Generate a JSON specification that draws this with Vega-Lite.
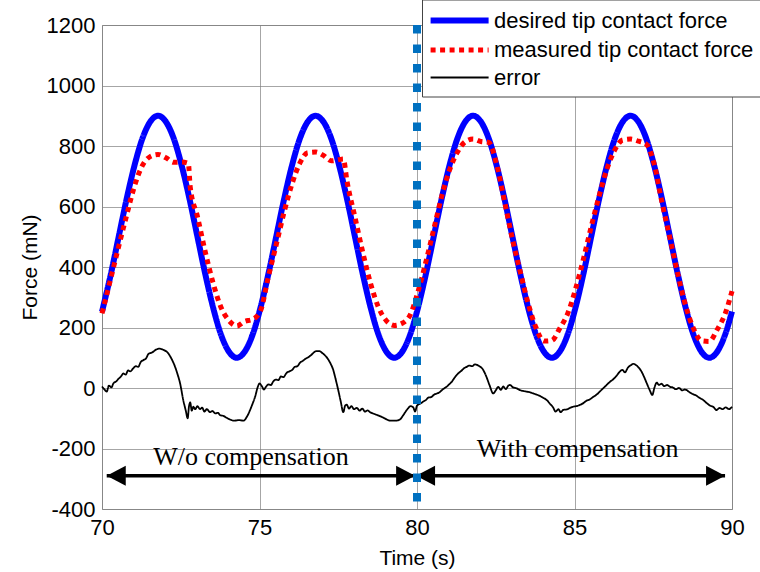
{
  "$schema": "https://vega.github.io/schema/vega-lite/v6.json",
  "width": 630,
  "height": 484,
  "autosize": {"type": "none"},
  "padding": {"left": 102, "top": 25, "right": 28, "bottom": 63},
  "background": "white",
  "config": {
    "font": "Liberation Sans",
    "view": {"stroke": "#999", "strokeWidth": 1},
    "axis": {
      "labelFont": "Liberation Sans", "labelFontSize": 22, "labelColor": "#000", "labelFlush": false,
      "titleFont": "Liberation Sans", "titleFontSize": 21, "titleFontWeight": "normal", "titleColor": "#000",
      "gridColor": "#808080", "gridWidth": 0.7, "domain": false, "ticks": false
    }
  },
  "datasets": {
    "curves": [
      {"t": 70.00, "v": 252, "s": "desired tip contact force"},
      {"t": 70.03, "v": 265, "s": "desired tip contact force"},
      {"t": 70.28, "v": 376, "s": "desired tip contact force"},
      {"t": 70.53, "v": 500, "s": "desired tip contact force"},
      {"t": 70.78, "v": 624, "s": "desired tip contact force"},
      {"t": 71.03, "v": 735, "s": "desired tip contact force"},
      {"t": 71.28, "v": 824, "s": "desired tip contact force"},
      {"t": 71.53, "v": 880, "s": "desired tip contact force"},
      {"t": 71.78, "v": 900, "s": "desired tip contact force"},
      {"t": 72.03, "v": 880, "s": "desired tip contact force"},
      {"t": 72.28, "v": 824, "s": "desired tip contact force"},
      {"t": 72.53, "v": 735, "s": "desired tip contact force"},
      {"t": 72.78, "v": 624, "s": "desired tip contact force"},
      {"t": 73.03, "v": 500, "s": "desired tip contact force"},
      {"t": 73.28, "v": 376, "s": "desired tip contact force"},
      {"t": 73.53, "v": 265, "s": "desired tip contact force"},
      {"t": 73.78, "v": 176, "s": "desired tip contact force"},
      {"t": 74.03, "v": 120, "s": "desired tip contact force"},
      {"t": 74.28, "v": 100, "s": "desired tip contact force"},
      {"t": 74.53, "v": 120, "s": "desired tip contact force"},
      {"t": 74.78, "v": 176, "s": "desired tip contact force"},
      {"t": 75.03, "v": 265, "s": "desired tip contact force"},
      {"t": 75.28, "v": 376, "s": "desired tip contact force"},
      {"t": 75.53, "v": 500, "s": "desired tip contact force"},
      {"t": 75.78, "v": 624, "s": "desired tip contact force"},
      {"t": 76.03, "v": 735, "s": "desired tip contact force"},
      {"t": 76.28, "v": 824, "s": "desired tip contact force"},
      {"t": 76.53, "v": 880, "s": "desired tip contact force"},
      {"t": 76.78, "v": 900, "s": "desired tip contact force"},
      {"t": 77.03, "v": 880, "s": "desired tip contact force"},
      {"t": 77.28, "v": 824, "s": "desired tip contact force"},
      {"t": 77.53, "v": 735, "s": "desired tip contact force"},
      {"t": 77.78, "v": 624, "s": "desired tip contact force"},
      {"t": 78.03, "v": 500, "s": "desired tip contact force"},
      {"t": 78.28, "v": 376, "s": "desired tip contact force"},
      {"t": 78.53, "v": 265, "s": "desired tip contact force"},
      {"t": 78.78, "v": 176, "s": "desired tip contact force"},
      {"t": 79.03, "v": 120, "s": "desired tip contact force"},
      {"t": 79.28, "v": 100, "s": "desired tip contact force"},
      {"t": 79.53, "v": 120, "s": "desired tip contact force"},
      {"t": 79.78, "v": 176, "s": "desired tip contact force"},
      {"t": 80.03, "v": 265, "s": "desired tip contact force"},
      {"t": 80.28, "v": 376, "s": "desired tip contact force"},
      {"t": 80.53, "v": 500, "s": "desired tip contact force"},
      {"t": 80.78, "v": 624, "s": "desired tip contact force"},
      {"t": 81.03, "v": 735, "s": "desired tip contact force"},
      {"t": 81.28, "v": 824, "s": "desired tip contact force"},
      {"t": 81.53, "v": 880, "s": "desired tip contact force"},
      {"t": 81.78, "v": 900, "s": "desired tip contact force"},
      {"t": 82.03, "v": 880, "s": "desired tip contact force"},
      {"t": 82.28, "v": 824, "s": "desired tip contact force"},
      {"t": 82.53, "v": 735, "s": "desired tip contact force"},
      {"t": 82.78, "v": 624, "s": "desired tip contact force"},
      {"t": 83.03, "v": 500, "s": "desired tip contact force"},
      {"t": 83.28, "v": 376, "s": "desired tip contact force"},
      {"t": 83.53, "v": 265, "s": "desired tip contact force"},
      {"t": 83.78, "v": 176, "s": "desired tip contact force"},
      {"t": 84.03, "v": 120, "s": "desired tip contact force"},
      {"t": 84.28, "v": 100, "s": "desired tip contact force"},
      {"t": 84.53, "v": 120, "s": "desired tip contact force"},
      {"t": 84.78, "v": 176, "s": "desired tip contact force"},
      {"t": 85.03, "v": 265, "s": "desired tip contact force"},
      {"t": 85.28, "v": 376, "s": "desired tip contact force"},
      {"t": 85.53, "v": 500, "s": "desired tip contact force"},
      {"t": 85.78, "v": 624, "s": "desired tip contact force"},
      {"t": 86.03, "v": 735, "s": "desired tip contact force"},
      {"t": 86.28, "v": 824, "s": "desired tip contact force"},
      {"t": 86.53, "v": 880, "s": "desired tip contact force"},
      {"t": 86.78, "v": 900, "s": "desired tip contact force"},
      {"t": 87.03, "v": 880, "s": "desired tip contact force"},
      {"t": 87.28, "v": 824, "s": "desired tip contact force"},
      {"t": 87.53, "v": 735, "s": "desired tip contact force"},
      {"t": 87.78, "v": 624, "s": "desired tip contact force"},
      {"t": 88.03, "v": 500, "s": "desired tip contact force"},
      {"t": 88.28, "v": 376, "s": "desired tip contact force"},
      {"t": 88.53, "v": 265, "s": "desired tip contact force"},
      {"t": 88.78, "v": 176, "s": "desired tip contact force"},
      {"t": 89.03, "v": 120, "s": "desired tip contact force"},
      {"t": 89.28, "v": 100, "s": "desired tip contact force"},
      {"t": 89.53, "v": 120, "s": "desired tip contact force"},
      {"t": 89.78, "v": 176, "s": "desired tip contact force"},
      {"t": 90.00, "v": 253, "s": "desired tip contact force"},

      {"t": 70.00, "v": 247, "s": "measured tip contact force"},
      {"t": 70.03, "v": 259, "s": "measured tip contact force"},
      {"t": 70.28, "v": 363, "s": "measured tip contact force"},
      {"t": 70.53, "v": 468, "s": "measured tip contact force"},
      {"t": 70.78, "v": 570, "s": "measured tip contact force"},
      {"t": 71.03, "v": 667, "s": "measured tip contact force"},
      {"t": 71.28, "v": 735, "s": "measured tip contact force"},
      {"t": 71.53, "v": 765, "s": "measured tip contact force"},
      {"t": 71.78, "v": 772, "s": "measured tip contact force"},
      {"t": 72.03, "v": 761, "s": "measured tip contact force"},
      {"t": 72.28, "v": 746, "s": "measured tip contact force"},
      {"t": 72.53, "v": 747, "s": "measured tip contact force"},
      {"t": 72.74, "v": 743, "s": "measured tip contact force"},
      {"t": 72.80, "v": 665, "s": "measured tip contact force"},
      {"t": 73.03, "v": 567, "s": "measured tip contact force"},
      {"t": 73.28, "v": 449, "s": "measured tip contact force"},
      {"t": 73.53, "v": 346, "s": "measured tip contact force"},
      {"t": 73.78, "v": 266, "s": "measured tip contact force"},
      {"t": 74.03, "v": 223, "s": "measured tip contact force"},
      {"t": 74.28, "v": 205, "s": "measured tip contact force"},
      {"t": 74.53, "v": 220, "s": "measured tip contact force"},
      {"t": 74.78, "v": 227, "s": "measured tip contact force"},
      {"t": 75.03, "v": 255, "s": "measured tip contact force"},
      {"t": 75.28, "v": 367, "s": "measured tip contact force"},
      {"t": 75.53, "v": 473, "s": "measured tip contact force"},
      {"t": 75.78, "v": 581, "s": "measured tip contact force"},
      {"t": 76.03, "v": 674, "s": "measured tip contact force"},
      {"t": 76.28, "v": 743, "s": "measured tip contact force"},
      {"t": 76.53, "v": 778, "s": "measured tip contact force"},
      {"t": 76.78, "v": 780, "s": "measured tip contact force"},
      {"t": 77.03, "v": 769, "s": "measured tip contact force"},
      {"t": 77.28, "v": 751, "s": "measured tip contact force"},
      {"t": 77.53, "v": 755, "s": "measured tip contact force"},
      {"t": 77.66, "v": 757, "s": "measured tip contact force"},
      {"t": 77.78, "v": 682, "s": "measured tip contact force"},
      {"t": 78.03, "v": 565, "s": "measured tip contact force"},
      {"t": 78.28, "v": 448, "s": "measured tip contact force"},
      {"t": 78.53, "v": 344, "s": "measured tip contact force"},
      {"t": 78.78, "v": 266, "s": "measured tip contact force"},
      {"t": 79.03, "v": 222, "s": "measured tip contact force"},
      {"t": 79.28, "v": 207, "s": "measured tip contact force"},
      {"t": 79.53, "v": 214, "s": "measured tip contact force"},
      {"t": 79.78, "v": 241, "s": "measured tip contact force"},
      {"t": 80.03, "v": 318, "s": "measured tip contact force"},
      {"t": 80.28, "v": 416, "s": "measured tip contact force"},
      {"t": 80.53, "v": 524, "s": "measured tip contact force"},
      {"t": 80.78, "v": 632, "s": "measured tip contact force"},
      {"t": 81.03, "v": 720, "s": "measured tip contact force"},
      {"t": 81.28, "v": 779, "s": "measured tip contact force"},
      {"t": 81.53, "v": 814, "s": "measured tip contact force"},
      {"t": 81.78, "v": 823, "s": "measured tip contact force"},
      {"t": 82.03, "v": 815, "s": "measured tip contact force"},
      {"t": 82.28, "v": 812, "s": "measured tip contact force"},
      {"t": 82.53, "v": 738, "s": "measured tip contact force"},
      {"t": 82.78, "v": 617, "s": "measured tip contact force"},
      {"t": 83.03, "v": 492, "s": "measured tip contact force"},
      {"t": 83.28, "v": 383, "s": "measured tip contact force"},
      {"t": 83.53, "v": 279, "s": "measured tip contact force"},
      {"t": 83.78, "v": 199, "s": "measured tip contact force"},
      {"t": 84.03, "v": 155, "s": "measured tip contact force"},
      {"t": 84.28, "v": 157, "s": "measured tip contact force"},
      {"t": 84.53, "v": 197, "s": "measured tip contact force"},
      {"t": 84.78, "v": 245, "s": "measured tip contact force"},
      {"t": 85.03, "v": 326, "s": "measured tip contact force"},
      {"t": 85.28, "v": 425, "s": "measured tip contact force"},
      {"t": 85.53, "v": 533, "s": "measured tip contact force"},
      {"t": 85.78, "v": 634, "s": "measured tip contact force"},
      {"t": 86.03, "v": 724, "s": "measured tip contact force"},
      {"t": 86.28, "v": 787, "s": "measured tip contact force"},
      {"t": 86.53, "v": 820, "s": "measured tip contact force"},
      {"t": 86.78, "v": 823, "s": "measured tip contact force"},
      {"t": 87.03, "v": 816, "s": "measured tip contact force"},
      {"t": 87.28, "v": 806, "s": "measured tip contact force"},
      {"t": 87.53, "v": 740, "s": "measured tip contact force"},
      {"t": 87.78, "v": 612, "s": "measured tip contact force"},
      {"t": 88.03, "v": 496, "s": "measured tip contact force"},
      {"t": 88.28, "v": 377, "s": "measured tip contact force"},
      {"t": 88.53, "v": 271, "s": "measured tip contact force"},
      {"t": 88.78, "v": 196, "s": "measured tip contact force"},
      {"t": 89.03, "v": 156, "s": "measured tip contact force"},
      {"t": 89.28, "v": 154, "s": "measured tip contact force"},
      {"t": 89.53, "v": 193, "s": "measured tip contact force"},
      {"t": 89.78, "v": 245, "s": "measured tip contact force"},
      {"t": 90.00, "v": 320, "s": "measured tip contact force"},

      {"t": 70.00, "v": 5, "s": "error"},
      {"t": 70.08, "v": -5, "s": "error"},
      {"t": 70.15, "v": -12, "s": "error"},
      {"t": 70.22, "v": 8, "s": "error"},
      {"t": 70.30, "v": 2, "s": "error"},
      {"t": 70.36, "v": 15, "s": "error"},
      {"t": 70.45, "v": 22, "s": "error"},
      {"t": 70.52, "v": 30, "s": "error"},
      {"t": 70.60, "v": 38, "s": "error"},
      {"t": 70.68, "v": 48, "s": "error"},
      {"t": 70.75, "v": 44, "s": "error"},
      {"t": 70.83, "v": 58, "s": "error"},
      {"t": 70.90, "v": 55, "s": "error"},
      {"t": 70.99, "v": 65, "s": "error"},
      {"t": 71.07, "v": 72, "s": "error"},
      {"t": 71.15, "v": 70, "s": "error"},
      {"t": 71.23, "v": 86, "s": "error"},
      {"t": 71.31, "v": 92, "s": "error"},
      {"t": 71.40, "v": 98, "s": "error"},
      {"t": 71.47, "v": 112, "s": "error"},
      {"t": 71.52, "v": 115, "s": "error"},
      {"t": 71.60, "v": 118, "s": "error"},
      {"t": 71.70, "v": 126, "s": "error"},
      {"t": 71.82, "v": 130, "s": "error"},
      {"t": 71.95, "v": 126, "s": "error"},
      {"t": 72.10, "v": 115, "s": "error"},
      {"t": 72.20, "v": 98, "s": "error"},
      {"t": 72.32, "v": 70, "s": "error"},
      {"t": 72.40, "v": 45, "s": "error"},
      {"t": 72.48, "v": 15, "s": "error"},
      {"t": 72.58, "v": -40, "s": "error"},
      {"t": 72.66, "v": -75, "s": "error"},
      {"t": 72.72, "v": -100, "s": "error"},
      {"t": 72.76, "v": -62, "s": "error"},
      {"t": 72.80, "v": -48, "s": "error"},
      {"t": 72.85, "v": -75, "s": "error"},
      {"t": 72.90, "v": -62, "s": "error"},
      {"t": 72.96, "v": -70, "s": "error"},
      {"t": 73.03, "v": -60, "s": "error"},
      {"t": 73.11, "v": -70, "s": "error"},
      {"t": 73.18, "v": -65, "s": "error"},
      {"t": 73.25, "v": -78, "s": "error"},
      {"t": 73.33, "v": -70, "s": "error"},
      {"t": 73.43, "v": -80, "s": "error"},
      {"t": 73.50, "v": -76, "s": "error"},
      {"t": 73.60, "v": -84, "s": "error"},
      {"t": 73.68, "v": -82, "s": "error"},
      {"t": 73.75, "v": -90, "s": "error"},
      {"t": 73.85, "v": -92, "s": "error"},
      {"t": 73.95, "v": -98, "s": "error"},
      {"t": 74.06, "v": -104, "s": "error"},
      {"t": 74.20, "v": -108, "s": "error"},
      {"t": 74.35, "v": -106, "s": "error"},
      {"t": 74.49, "v": -108, "s": "error"},
      {"t": 74.60, "v": -95, "s": "error"},
      {"t": 74.70, "v": -73, "s": "error"},
      {"t": 74.78, "v": -52, "s": "error"},
      {"t": 74.86, "v": -29, "s": "error"},
      {"t": 74.95, "v": 5, "s": "error"},
      {"t": 75.00, "v": 15, "s": "error"},
      {"t": 75.08, "v": 5, "s": "error"},
      {"t": 75.14, "v": -5, "s": "error"},
      {"t": 75.20, "v": 3, "s": "error"},
      {"t": 75.28, "v": 12, "s": "error"},
      {"t": 75.36, "v": 10, "s": "error"},
      {"t": 75.44, "v": 22, "s": "error"},
      {"t": 75.52, "v": 28, "s": "error"},
      {"t": 75.60, "v": 26, "s": "error"},
      {"t": 75.68, "v": 38, "s": "error"},
      {"t": 75.76, "v": 36, "s": "error"},
      {"t": 75.86, "v": 50, "s": "error"},
      {"t": 75.95, "v": 55, "s": "error"},
      {"t": 76.04, "v": 60, "s": "error"},
      {"t": 76.12, "v": 70, "s": "error"},
      {"t": 76.20, "v": 72, "s": "error"},
      {"t": 76.29, "v": 84, "s": "error"},
      {"t": 76.38, "v": 90, "s": "error"},
      {"t": 76.45, "v": 96, "s": "error"},
      {"t": 76.55, "v": 102, "s": "error"},
      {"t": 76.63, "v": 108, "s": "error"},
      {"t": 76.71, "v": 116, "s": "error"},
      {"t": 76.80, "v": 122, "s": "error"},
      {"t": 76.90, "v": 122, "s": "error"},
      {"t": 77.00, "v": 115, "s": "error"},
      {"t": 77.13, "v": 102, "s": "error"},
      {"t": 77.25, "v": 82, "s": "error"},
      {"t": 77.34, "v": 60, "s": "error"},
      {"t": 77.42, "v": 28, "s": "error"},
      {"t": 77.50, "v": -7, "s": "error"},
      {"t": 77.58, "v": -45, "s": "error"},
      {"t": 77.66, "v": -80, "s": "error"},
      {"t": 77.72, "v": -58, "s": "error"},
      {"t": 77.77, "v": -55, "s": "error"},
      {"t": 77.84, "v": -68, "s": "error"},
      {"t": 77.92, "v": -60, "s": "error"},
      {"t": 78.00, "v": -70, "s": "error"},
      {"t": 78.09, "v": -66, "s": "error"},
      {"t": 78.18, "v": -75, "s": "error"},
      {"t": 78.26, "v": -68, "s": "error"},
      {"t": 78.35, "v": -78, "s": "error"},
      {"t": 78.43, "v": -74, "s": "error"},
      {"t": 78.51, "v": -80, "s": "error"},
      {"t": 78.60, "v": -84, "s": "error"},
      {"t": 78.70, "v": -88, "s": "error"},
      {"t": 78.80, "v": -92, "s": "error"},
      {"t": 78.93, "v": -98, "s": "error"},
      {"t": 79.04, "v": -104, "s": "error"},
      {"t": 79.14, "v": -108, "s": "error"},
      {"t": 79.30, "v": -108, "s": "error"},
      {"t": 79.46, "v": -104, "s": "error"},
      {"t": 79.55, "v": -92, "s": "error"},
      {"t": 79.64, "v": -78, "s": "error"},
      {"t": 79.72, "v": -67, "s": "error"},
      {"t": 79.80, "v": -60, "s": "error"},
      {"t": 79.88, "v": -64, "s": "error"},
      {"t": 79.94, "v": -78, "s": "error"},
      {"t": 80.00, "v": -58, "s": "error"},
      {"t": 80.10, "v": -52, "s": "error"},
      {"t": 80.20, "v": -45, "s": "error"},
      {"t": 80.28, "v": -40, "s": "error"},
      {"t": 80.36, "v": -32, "s": "error"},
      {"t": 80.45, "v": -30, "s": "error"},
      {"t": 80.54, "v": -22, "s": "error"},
      {"t": 80.63, "v": -18, "s": "error"},
      {"t": 80.72, "v": -14, "s": "error"},
      {"t": 80.80, "v": -6, "s": "error"},
      {"t": 80.88, "v": 0, "s": "error"},
      {"t": 80.94, "v": 4, "s": "error"},
      {"t": 81.02, "v": 12, "s": "error"},
      {"t": 81.10, "v": 20, "s": "error"},
      {"t": 81.18, "v": 32, "s": "error"},
      {"t": 81.26, "v": 43, "s": "error"},
      {"t": 81.35, "v": 52, "s": "error"},
      {"t": 81.42, "v": 58, "s": "error"},
      {"t": 81.50, "v": 66, "s": "error"},
      {"t": 81.58, "v": 70, "s": "error"},
      {"t": 81.66, "v": 74, "s": "error"},
      {"t": 81.75, "v": 72, "s": "error"},
      {"t": 81.84, "v": 78, "s": "error"},
      {"t": 81.95, "v": 74, "s": "error"},
      {"t": 82.10, "v": 60, "s": "error"},
      {"t": 82.20, "v": 38, "s": "error"},
      {"t": 82.30, "v": 10, "s": "error"},
      {"t": 82.42, "v": -18, "s": "error"},
      {"t": 82.50, "v": -8, "s": "error"},
      {"t": 82.58, "v": 4, "s": "error"},
      {"t": 82.66, "v": -6, "s": "error"},
      {"t": 82.74, "v": 5, "s": "error"},
      {"t": 82.82, "v": -4, "s": "error"},
      {"t": 82.90, "v": 8, "s": "error"},
      {"t": 82.95, "v": 10, "s": "error"},
      {"t": 83.05, "v": 2, "s": "error"},
      {"t": 83.16, "v": -1, "s": "error"},
      {"t": 83.27, "v": -7, "s": "error"},
      {"t": 83.38, "v": -10, "s": "error"},
      {"t": 83.48, "v": -12, "s": "error"},
      {"t": 83.58, "v": -14, "s": "error"},
      {"t": 83.69, "v": -18, "s": "error"},
      {"t": 83.80, "v": -22, "s": "error"},
      {"t": 83.90, "v": -26, "s": "error"},
      {"t": 84.00, "v": -32, "s": "error"},
      {"t": 84.12, "v": -40, "s": "error"},
      {"t": 84.22, "v": -52, "s": "error"},
      {"t": 84.32, "v": -64, "s": "error"},
      {"t": 84.40, "v": -78, "s": "error"},
      {"t": 84.49, "v": -70, "s": "error"},
      {"t": 84.56, "v": -80, "s": "error"},
      {"t": 84.65, "v": -72, "s": "error"},
      {"t": 84.75, "v": -71, "s": "error"},
      {"t": 84.85, "v": -66, "s": "error"},
      {"t": 84.95, "v": -62, "s": "error"},
      {"t": 85.05, "v": -60, "s": "error"},
      {"t": 85.17, "v": -56, "s": "error"},
      {"t": 85.28, "v": -50, "s": "error"},
      {"t": 85.38, "v": -42, "s": "error"},
      {"t": 85.48, "v": -38, "s": "error"},
      {"t": 85.60, "v": -29, "s": "error"},
      {"t": 85.70, "v": -22, "s": "error"},
      {"t": 85.80, "v": -12, "s": "error"},
      {"t": 85.90, "v": -2, "s": "error"},
      {"t": 86.02, "v": 10, "s": "error"},
      {"t": 86.12, "v": 20, "s": "error"},
      {"t": 86.22, "v": 28, "s": "error"},
      {"t": 86.33, "v": 40, "s": "error"},
      {"t": 86.44, "v": 54, "s": "error"},
      {"t": 86.52, "v": 60, "s": "error"},
      {"t": 86.60, "v": 52, "s": "error"},
      {"t": 86.70, "v": 68, "s": "error"},
      {"t": 86.80, "v": 76, "s": "error"},
      {"t": 86.87, "v": 80, "s": "error"},
      {"t": 86.95, "v": 76, "s": "error"},
      {"t": 87.05, "v": 66, "s": "error"},
      {"t": 87.13, "v": 54, "s": "error"},
      {"t": 87.22, "v": 34, "s": "error"},
      {"t": 87.30, "v": 14, "s": "error"},
      {"t": 87.38, "v": -5, "s": "error"},
      {"t": 87.47, "v": -23, "s": "error"},
      {"t": 87.54, "v": 2, "s": "error"},
      {"t": 87.61, "v": 18, "s": "error"},
      {"t": 87.68, "v": 10, "s": "error"},
      {"t": 87.76, "v": 14, "s": "error"},
      {"t": 87.85, "v": 6, "s": "error"},
      {"t": 87.94, "v": 10, "s": "error"},
      {"t": 88.03, "v": 4, "s": "error"},
      {"t": 88.12, "v": 2, "s": "error"},
      {"t": 88.22, "v": -4, "s": "error"},
      {"t": 88.32, "v": 0, "s": "error"},
      {"t": 88.42, "v": -8, "s": "error"},
      {"t": 88.50, "v": -5, "s": "error"},
      {"t": 88.56, "v": -7, "s": "error"},
      {"t": 88.65, "v": -14, "s": "error"},
      {"t": 88.75, "v": -20, "s": "error"},
      {"t": 88.85, "v": -24, "s": "error"},
      {"t": 88.96, "v": -32, "s": "error"},
      {"t": 89.09, "v": -40, "s": "error"},
      {"t": 89.20, "v": -50, "s": "error"},
      {"t": 89.30, "v": -58, "s": "error"},
      {"t": 89.40, "v": -62, "s": "error"},
      {"t": 89.51, "v": -73, "s": "error"},
      {"t": 89.60, "v": -66, "s": "error"},
      {"t": 89.70, "v": -70, "s": "error"},
      {"t": 89.80, "v": -64, "s": "error"},
      {"t": 89.90, "v": -70, "s": "error"},
      {"t": 90.00, "v": -62, "s": "error"}
    ],
    "shafts": [
      {"t": 70.15, "t2": 79.94, "v": -290},
      {"t": 79.97, "t2": 89.78, "v": -290}
    ],
    "heads": [
      {"t": 70.15, "v": -290, "dir": "L"},
      {"t": 79.94, "v": -290, "dir": "R"},
      {"t": 79.97, "v": -290, "dir": "L"},
      {"t": 89.78, "v": -290, "dir": "R"}
    ],
    "labels": [
      {"t": 74.73, "v": -255, "label": "W/o compensation"},
      {"t": 85.1, "v": -227, "label": "With compensation"}
    ],
    "divider": [{"t": 80}]
  },
  "layer": [
    {
      "data": {"name": "curves"},
      "mark": {"type": "line", "interpolate": "monotone", "strokeCap": "butt"},
      "encoding": {
        "x": {"field": "t", "type": "quantitative", "scale": {"domain": [70, 90], "nice": false, "zero": false},
              "axis": {"values": [70, 75, 80, 85, 90], "title": "Time (s)", "labelPadding": 8, "titlePadding": 9}},
        "y": {"field": "v", "type": "quantitative", "scale": {"domain": [-400, 1200], "nice": false, "zero": false},
              "axis": {"values": [-400, -200, 0, 200, 400, 600, 800, 1000, 1200], "labelExpr": "'' + datum.value", "title": "Force (mN)", "labelPadding": 7, "titlePadding": 6}},
        "color": {"field": "s", "type": "nominal",
                  "scale": {"domain": ["desired tip contact force", "measured tip contact force", "error"], "range": ["#0000FF", "#FF0000", "#000000"]},
                  "legend": {"orient": "none", "legendX": 320, "legendY": -25.5, "title": null, "symbolType": "M-3,0L3,0", "symbolSize": 374,
                             "symbolOffset": 16.6,
                             "labelFontSize": 22, "labelFont": "Liberation Sans", "labelColor": "#000", "labelLimit": 400, "labelOffset": 21.4,
                             "fillColor": "white", "strokeColor": "#444", "padding": 8, "rowPadding": 5}},
        "strokeDash": {"field": "s", "type": "nominal",
                       "scale": {"domain": ["desired tip contact force", "measured tip contact force", "error"], "range": [[1, 0], [5, 4.5], [1, 0]]}},
        "strokeWidth": {"field": "s", "type": "nominal",
                        "scale": {"type": "ordinal", "domain": ["desired tip contact force", "measured tip contact force", "error"], "range": [6, 5, 1.8]}}
      }
    },
    {
      "data": {"name": "shafts"},
      "mark": {"type": "rule", "color": "black", "strokeWidth": 3.5},
      "encoding": {
        "x": {"field": "t", "type": "quantitative"},
        "x2": {"field": "t2"},
        "y": {"field": "v", "type": "quantitative"}
      }
    },
    {
      "data": {"name": "heads"},
      "mark": {"type": "point", "filled": true, "color": "black", "opacity": 1, "size": 1444, "strokeWidth": 0},
      "encoding": {
        "x": {"field": "t", "type": "quantitative"},
        "y": {"field": "v", "type": "quantitative"},
        "shape": {"field": "dir", "type": "nominal", "legend": null,
                  "scale": {"domain": ["L", "R"], "range": ["M0,0L1,-0.53L1,0.53Z", "M0,0L-1,-0.53L-1,0.53Z"]}}
      }
    },
    {
      "data": {"name": "labels"},
      "mark": {"type": "text", "font": "Liberation Serif", "fontSize": 26, "align": "center", "baseline": "alphabetic", "color": "black"},
      "encoding": {
        "x": {"field": "t", "type": "quantitative"},
        "y": {"field": "v", "type": "quantitative"},
        "text": {"field": "label"}
      }
    },
    {
      "data": {"name": "divider"},
      "mark": {"type": "rule", "color": "#0070C0", "strokeWidth": 8, "strokeDash": [8.5, 11], "strokeCap": "butt"},
      "encoding": {
        "x": {"field": "t", "type": "quantitative"}
      }
    }
  ]
}
